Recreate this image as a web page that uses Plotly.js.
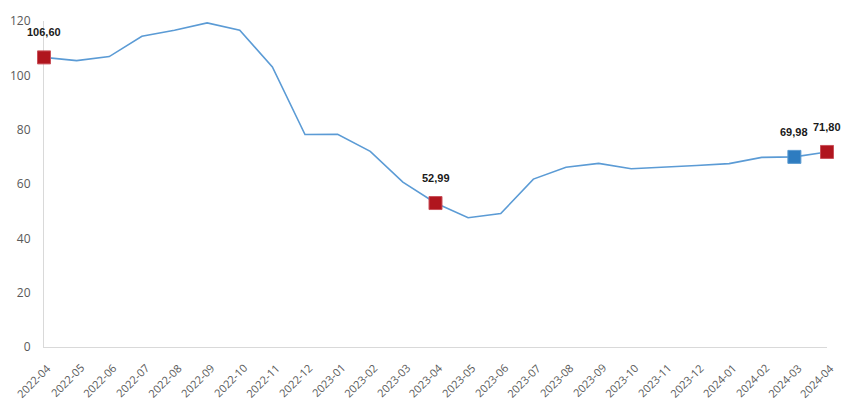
<!DOCTYPE html>
<html>
<head>
<meta charset="utf-8">
<script src="https://cdn.plot.ly/plotly-3.0.1.min.js"></script>
<style>html,body{margin:0;padding:0;background:#fff;}#chart{width:850px;height:418px;}</style>
</head>
<body>
<div id="chart"></div>
<script>
const months = ["2022-04","2022-05","2022-06","2022-07","2022-08","2022-09","2022-10","2022-11","2022-12",
  "2023-01","2023-02","2023-03","2023-04","2023-05","2023-06","2023-07","2023-08","2023-09","2023-10",
  "2023-11","2023-12","2024-01","2024-02","2024-03","2024-04"];
const values = [106.60,105.4,106.9,114.4,116.6,119.3,116.6,103.1,78.2,
  78.3,72.0,60.7,52.99,47.6,49.1,61.8,66.2,67.6,65.6,
  66.1,66.8,67.5,69.8,69.98,71.80];
const redMonths = ["2022-04","2023-04","2024-04"];
const redValues = [106.60,52.99,71.80];
const blueMonths = ["2024-03"];
const blueValues = [69.98];
const labelMonths = ["2022-04","2023-04","2024-03","2024-04"];
const labelValues = [106.60,52.99,69.98,71.80];
const labelTexts = ["106,60","52,99","69,98","71,80"];
const yTicks = [0,20,40,60,80,100,120];

const traces = [
  {x: months, y: values, type: "scatter", mode: "lines",
   line: {color: "#5B9BD5", width: 1.6}, hoverinfo: "skip", cliponaxis: false},
  {x: redMonths, y: redValues, type: "scatter", mode: "markers",
   marker: {symbol: "square", size: 13, color: "#B0151E", line: {color: "#C9515A", width: 1}}, cliponaxis: false},
  {x: blueMonths, y: blueValues, type: "scatter", mode: "markers",
   marker: {symbol: "square", size: 13, color: "#2E7CC0", line: {color: "#5A9AD0", width: 1}}, cliponaxis: false}
];

const valueAnnotations = labelMonths.map((m, i) => ({
  x: m, y: labelValues[i], xref: "x", yref: "y", text: labelTexts[i],
  showarrow: false, yshift: 25,
  font: {family: "Liberation Sans, Arial, sans-serif", size: 11, color: "#1a1a1a", weight: "bold"}
}));

const tickAnnotations = months.map(m => ({
  x: m, y: 0, xref: "x", yref: "paper", text: m, textangle: -45,
  xanchor: "right", yanchor: "top", showarrow: false, xshift: 13, yshift: -11,
  font: {family: "Open Sans, Noto Sans, sans-serif", size: 11, color: "#595959"}
}));

const layout = {
  width: 850, height: 418,
  margin: {l: 44, r: 23, t: 21, b: 71, pad: 0},
  paper_bgcolor: "#fff", plot_bgcolor: "#fff",
  showlegend: false,
  font: {family: "Open Sans, Noto Sans, sans-serif", size: 11, color: "#595959"},
  xaxis: {type: "category", categoryorder: "array", categoryarray: months,
    range: [0, months.length - 1], showticklabels: false, showgrid: false, zeroline: false,
    showline: true, linecolor: "#D9D9D9", linewidth: 1, ticks: "", fixedrange: true, layer: "below traces"},
  yaxis: {range: [0, 120], tickvals: yTicks, showgrid: false, zeroline: false,
    showline: true, linecolor: "#D9D9D9", linewidth: 1, ticks: "", layer: "below traces",
    ticklabelstandoff: 10, tickfont: {size: 12, color: "#595959"}, fixedrange: true},
  annotations: valueAnnotations.concat(tickAnnotations)
};

Plotly.newPlot("chart", traces, layout, {displayModeBar: false, staticPlot: true});
</script>
</body>
</html>
